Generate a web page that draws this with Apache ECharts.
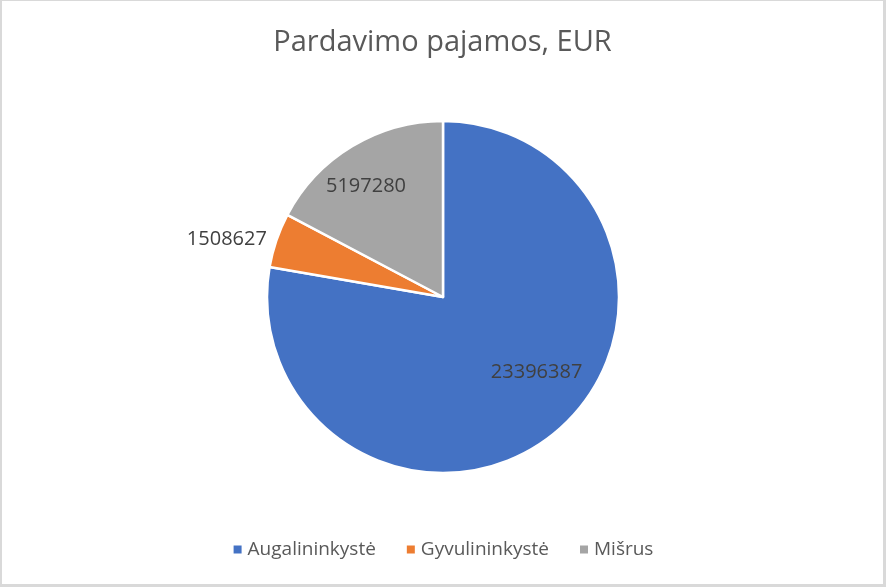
<!DOCTYPE html>
<html>
<head>
<meta charset="utf-8">
<script src="https://cdn.jsdelivr.net/npm/echarts@6/dist/echarts.min.js"></script>
<style>
html,body{margin:0;padding:0;background:#fff;}
#c{width:886px;height:587px;box-sizing:border-box;border-style:solid;border-color:#d9d9d9;border-width:1px 3px 3px 2px;}
</style>
</head>
<body>
<div id="c"></div>
<script>
const categories = ['Augalininkystė', 'Gyvulininkystė', 'Mišrus'];
const values = [23396387, 1508627, 5197280];
const colors = ['#4472C4', '#ED7D31', '#A5A5A5'];
const labelOffsets = [[35, 6], [-130, -28], [-30, -33]];

const chart = echarts.init(document.getElementById('c'));
const FONT = '"Open Sans", "Noto Sans", sans-serif';
chart.setOption({
  animation: false,
  title: {
    text: 'Pardavimo pajamos, EUR',
    left: 'center',
    top: 22,
    textStyle: {fontFamily: FONT, fontSize: 29, fontWeight: 'normal', color: '#595959'}
  },
  legend: {
    bottom: 20,
    left: 'center',
    icon: 'rect',
    itemWidth: 10,
    itemHeight: 10,
    itemGap: 29,
    data: categories,
    textStyle: {fontFamily: FONT, fontSize: 19, color: '#595959'}
  },
  series: [{
    type: 'pie',
    center: [441, 296],
    radius: [0, 176],
    startAngle: 90,
    clockwise: true,
    avoidLabelOverlap: false,
    itemStyle: {borderColor: '#fff', borderWidth: 2.5},
    label: {
      show: true,
      position: 'inside',
      formatter: '{c}',
      fontFamily: FONT,
      fontSize: 20,
      color: '#404040'
    },
    labelLine: {show: false},
    emphasis: {disabled: true},
    data: categories.map((n, i) => ({
      name: n,
      value: values[i],
      itemStyle: {color: colors[i]},
      label: {offset: labelOffsets[i]}
    }))
  }]
});
</script>
</body>
</html>
